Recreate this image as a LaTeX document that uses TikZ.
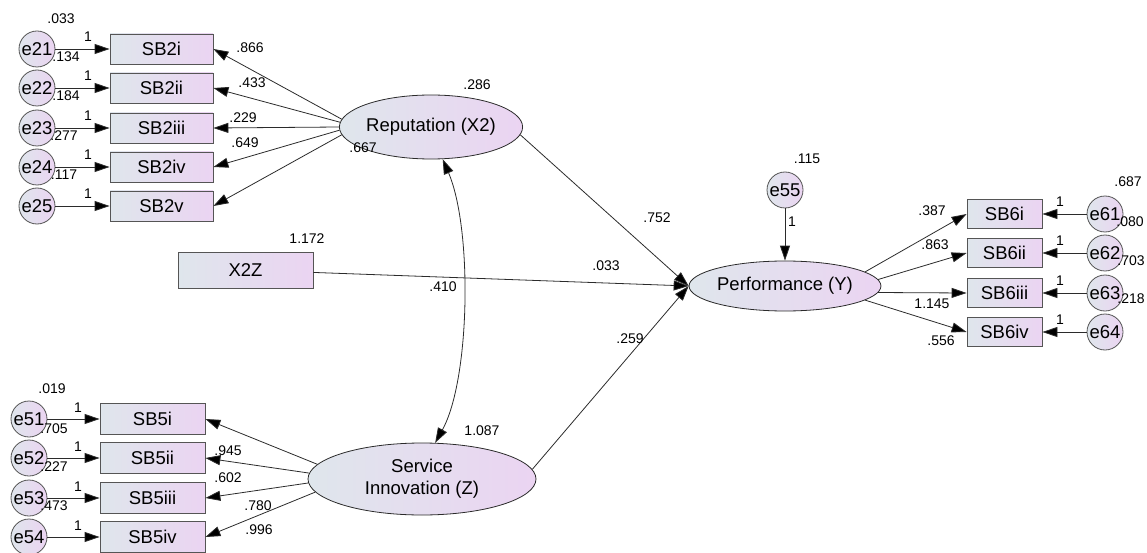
\documentclass[tikz,border=0pt]{standalone}
\usepackage{fontspec}
\setmainfont{Liberation Sans}
\usetikzlibrary{arrows.meta,shapes.geometric}
\definecolor{lc}{HTML}{DFE6EC}
\definecolor{rc}{HTML}{EBD4F2}
\definecolor{bd}{HTML}{555555}
\definecolor{ln}{HTML}{2B2B2B}
\begin{document}
\begin{tikzpicture}[x=1pt,y=-1pt,
  obs/.style={rectangle, draw=bd, line width=0.8pt, left color=lc, right color=rc,
    minimum width=#1, minimum height=30pt, inner sep=0pt, font=\fontsize{18.5}{20}\selectfont},
  lat/.style={ellipse, draw=ln, line width=0.8pt, left color=lc, right color=rc,
    inner sep=0pt, align=center, font=\fontsize{18.5}{22}\selectfont},
  err/.style={circle, draw=bd, line width=0.8pt, left color=lc, right color=rc,
    minimum size=36pt, inner sep=0pt, font=\fontsize{18.5}{20}\selectfont},
  lbl/.style={inner sep=0pt, font=\fontsize{14}{15}\selectfont},
  tip/.tip={Triangle[length=15pt,width=10pt,fill=black]},
  arr/.style={draw=ln, line width=0.8pt, -tip},
  dbl/.style={draw=ln, line width=0.8pt, tip-tip}
]
\useasboundingbox (0,0) rectangle (1147,553);

% ---------- Reputation block ----------
\node[lat, minimum width=172pt, minimum height=64pt] (rep) at (431,127) {Reputation (X2)};
\foreach \n/\y in {i/49, ii/88, iii/128, iv/167, v/206}{
  \node[obs=103pt] (sb2\n) at (161.5,\y) {SB2\n};
}
\node[err] (e21) at (37,49) {e21};
\node[err] (e22) at (37,88) {e22};
\node[err] (e23) at (37,128) {e23};
\node[err] (e24) at (37,167) {e24};
\node[err] (e25) at (37,206) {e25};
\foreach \a/\n in {e21/i, e22/ii, e23/iii, e24/iv, e25/v}{
  \draw[arr] (\a) -- (sb2\n);
}
\draw[arr] (rep.175) -- (sb2i.east);
\draw[arr] (rep.177.5) -- (sb2ii.east);
\draw[arr] (rep.180) -- (sb2iii.east);
\draw[arr] (rep.182.5) -- (sb2iv.east);
\draw[arr] (rep.185) -- (sb2v.east);

\node[lbl] (l033a) at (61,19) {.033};
\node[lbl] (l1a) at (88,37) {1};
\node[lbl] (l1b) at (88,76) {1};
\node[lbl] (l1c) at (88,116) {1};
\node[lbl] (l1d) at (88,155) {1};
\node[lbl] (l1e) at (88,194) {1};
\node[lbl] (l134) at (66,57) {.134};
\node[lbl] (l184) at (66,96) {.184};
\node[lbl] (l277) at (64,136) {.277};
\node[lbl] (l117) at (64,175) {.117};
\node[lbl] (l866) at (250,48) {.866};
\node[lbl] (l433) at (252,83) {.433};
\node[lbl] (l229) at (243,118) {.229};
\node[lbl] (l649) at (245,143) {.649};
\node[lbl] (l667) at (363,148) {.667};
\node[lbl] (l286) at (477,85) {.286};

% ---------- X2Z ----------
\node[obs=135pt, minimum height=36pt] (x2z) at (245.5,270) {X2Z};
\node[lbl] (l1172) at (307,239) {1.172};

% ---------- Performance block ----------
\node[lat, minimum width=150pt, minimum height=50pt] (perf) at (785,286) {Performance (Y)};
\node[err] (e55) at (785,190) {e55};
\node[lbl] (l115) at (807,159) {.115};
\node[lbl] (l1p) at (792,222) {1};
\draw[arr] (e55) -- (perf);

\foreach \n/\y in {i/214, ii/253, iii/293, iv/332}{
  \node[obs=75pt, minimum height=29pt] (sb6\n) at (1004.5,\y) {SB6\n};
}
\node[err] (e61) at (1105,214) {e61};
\node[err] (e62) at (1105,253) {e62};
\node[err] (e63) at (1105,293) {e63};
\node[err] (e64) at (1105,332) {e64};
\foreach \a/\n in {e61/i, e62/ii, e63/iii, e64/iv}{
  \draw[arr] (\a) -- (sb6\n);
}
\draw[arr] (perf.10) -- (sb6i.west);
\draw[arr] (perf.4) -- (sb6ii.west);
\draw[arr] (perf.-4) -- (sb6iii.west);
\draw[arr] (perf.-10) -- (sb6iv.west);

\node[lbl] (l687) at (1128,182) {.687};
\node[lbl] (l080) at (1130,222) {.080};
\node[lbl] (l703) at (1131,261) {.703};
\node[lbl] (l218) at (1131,299) {.218};
\node[lbl] (l1r1) at (1060,202) {1};
\node[lbl] (l1r2) at (1060,241) {1};
\node[lbl] (l1r3) at (1060,281) {1};
\node[lbl] (l1r4) at (1060,320) {1};
\node[lbl] (l387) at (932,211) {.387};
\node[lbl] (l863) at (935,245) {.863};
\node[lbl] (l1145) at (932,304) {1.145};
\node[lbl] (l556) at (941,341) {.556};

% ---------- Service Innovation block ----------
\node[lat, minimum width=228pt, minimum height=72pt] (si) at (422,479) {Service\\Innovation (Z)};
\foreach \n/\y in {i/419, ii/458, iii/498, iv/537}{
  \node[obs=105pt, minimum height=31pt] (sb5\n) at (152.5,\y) {SB5\n};
}
\node[err] (e51) at (29,419) {e51};
\node[err] (e52) at (29,458) {e52};
\node[err] (e53) at (29,498) {e53};
\node[err] (e54) at (29,537) {e54};
\foreach \a/\n in {e51/i, e52/ii, e53/iii, e54/iv}{
  \draw[arr] (\a) -- (sb5\n);
}
\draw[arr] (si.172) -- (sb5i.east);
\draw[arr] (si.177) -- (sb5ii.east);
\draw[arr] (si.182) -- (sb5iii.east);
\draw[arr] (si.187) -- (sb5iv.east);

\node[lbl] (l019) at (52,389) {.019};
\node[lbl] (l705) at (54,429) {.705};
\node[lbl] (l227) at (54,467) {.227};
\node[lbl] (l473) at (54,506) {.473};
\node[lbl] (l1s1) at (78,408) {1};
\node[lbl] (l1s2) at (78,447) {1};
\node[lbl] (l1s3) at (78,487) {1};
\node[lbl] (l1s4) at (78,526) {1};
\node[lbl] (l945) at (228,451) {.945};
\node[lbl] (l602) at (228,478) {.602};
\node[lbl] (l780) at (258,506) {.780};
\node[lbl] (l996) at (259,530) {.996};
\node[lbl] (l1087) at (482,431) {1.087};

% ---------- structural paths ----------
\draw[arr] (rep.-5) -- (perf.west);
\draw[arr] (x2z) -- (perf.west);
\draw[arr] (si.5) -- (perf.west);
\draw[dbl] (rep.-70) .. controls +(30,70) and +(35,-63) .. (si.70);

\node[lbl] (l752) at (657,218) {.752};
\node[lbl] (l033b) at (606,266) {.033};
\node[lbl] (l410) at (443,287) {.410};
\node[lbl] (l259) at (630,339) {.259};
\end{tikzpicture}
\end{document}
